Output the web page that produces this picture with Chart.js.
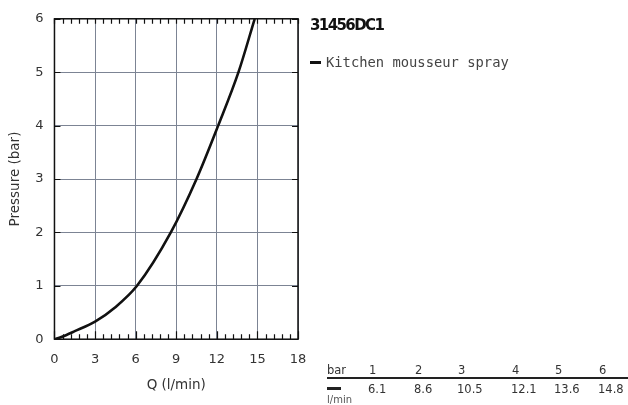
<!DOCTYPE html>
<html>
<head>
<meta charset="utf-8">
<script src="https://cdn.jsdelivr.net/npm/chart.js@4"></script>
<style>
  html, body { margin:0; padding:0; background:#fff; }
  body { width:628px; height:405px; position:relative; overflow:hidden; font-family:"DejaVu Sans", sans-serif; color:#333; }
  #wrap { position:absolute; left:0; top:0; width:628px; height:405px; }
  .abs { position:absolute; white-space:nowrap; }
  #title { left:310px; top:16px; font-size:15px; font-weight:bold; color:#111; letter-spacing:-1.6px; }
  #legend { left:310px; top:54px; font-family:"DejaVu Sans Mono", monospace; font-size:13.8px; color:#444; }
  #legend .sw { display:inline-block; width:11px; height:3px; background:#111; vertical-align:middle; margin-right:5px; position:relative; top:-1px; }
  .tb { font-size:11.5px; color:#333; }
  #rule { left:327px; top:377px; width:301px; height:2px; background:#222; }
  #dash { left:327px; top:387px; width:14px; height:3px; background:#222; }
  #lmin { left:327px; top:394px; font-size:10px; color:#555; }
</style>
</head>
<body>
<div id="wrap"><canvas id="c" width="628" height="405"></canvas></div>
<div class="abs" id="title"></div>
<div class="abs" id="legend"><span class="sw"></span><span id="legtext"></span></div>
<div class="abs" id="rule"></div>
<div class="abs" id="dash"></div>
<div class="abs tb" id="lmin">l/min</div>
<script>
const chartTitle = "31456DC1";
const seriesName = "Kitchen mousseur spray";
// curve points (Q in l/min, P in bar)
const flowCurve = [0, 0.5, 1.5, 3, 4.5, 6.1, 8.6, 10.5, 12.1, 13.6, 14.8];
const pressureCurve = [0, 0.04, 0.15, 0.33, 0.6, 1, 2, 3, 4, 5, 6];
// table below the chart
const tableBar = [1, 2, 3, 4, 5, 6];
const tableFlow = ["6.1", "8.6", "10.5", "12.1", "13.6", "14.8"];
const xTicks = [0, 3, 6, 9, 12, 15, 18];
const yTicks = [0, 1, 2, 3, 4, 5, 6];

document.getElementById('title').textContent = chartTitle;
document.getElementById('legtext').textContent = seriesName;

const colX = [369, 415, 458, 512, 555, 599];
const hdr = document.createElement('div');
hdr.className = 'abs tb'; hdr.style.left = '327px'; hdr.style.top = '363px'; hdr.textContent = 'bar';
document.body.appendChild(hdr);
tableBar.forEach((b, i) => {
  const d = document.createElement('div');
  d.className = 'abs tb'; d.style.left = colX[i] + 'px'; d.style.top = '363px'; d.textContent = String(b);
  document.body.appendChild(d);
  const e = document.createElement('div');
  e.className = 'abs tb'; e.style.left = (colX[i] - 1) + 'px'; e.style.top = '382px'; e.textContent = tableFlow[i];
  document.body.appendChild(e);
});

const points = flowCurve.map((q, i) => ({x: q, y: pressureCurve[i]}));

const boxPlugin = {
  id: 'box',
  afterDraw(chart) {
    const {ctx, chartArea: a, scales: {x, y}} = chart;
    ctx.save();
    ctx.strokeStyle = '#111';
    ctx.lineWidth = 1.5;
    ctx.strokeRect(a.left, a.top, a.right - a.left, a.bottom - a.top);
    ctx.lineWidth = 1.2;
    ctx.beginPath();
    for (let v = 0; v <= 18.001; v += 0.6) {
      const px = Math.round(x.getPixelForValue(v)) + 0.5;
      const major = Math.abs(v / 3 - Math.round(v / 3)) < 1e-6;
      const lb = major ? 8 : 5;
      ctx.moveTo(px, a.bottom); ctx.lineTo(px, a.bottom - lb);
      ctx.moveTo(px, a.top); ctx.lineTo(px, a.top + 5);
    }
    yTicks.forEach(v => {
      const py = Math.round(y.getPixelForValue(v)) + 0.5;
      ctx.moveTo(a.left, py); ctx.lineTo(a.left + 6, py);
      ctx.moveTo(a.right, py); ctx.lineTo(a.right - 6, py);
    });
    ctx.stroke();
    ctx.restore();
  }
};

new Chart(document.getElementById('c'), {
  type: 'scatter',
  data: {
    datasets: [{
      label: seriesName,
      data: points,
      showLine: true,
      borderColor: '#111',
      borderWidth: 2.6,
      pointRadius: 0,
      cubicInterpolationMode: 'monotone',
      fill: false
    }]
  },
  options: {
    responsive: false,
    animation: false,
    devicePixelRatio: 1,
    layout: { padding: { left: 3, right: 330, top: 16, bottom: 11 } },
    plugins: { legend: { display: false }, tooltip: { enabled: false } },
    scales: {
      x: {
        type: 'linear', min: 0, max: 18,
        afterBuildTicks: s => { s.ticks = xTicks.map(v => ({value: v})); },
        grid: { color: '#7c8494', lineWidth: 1, drawTicks: false },
        border: { display: false },
        ticks: { color: '#333', font: { family: 'DejaVu Sans', size: 13 }, padding: 13, maxRotation: 0 },
        title: { display: true, text: 'Q (l/min)', color: '#333', font: { family: 'DejaVu Sans', size: 13.5 }, padding: { top: -3, bottom: 0 } }
      },
      y: {
        type: 'linear', min: 0, max: 6,
        afterBuildTicks: s => { s.ticks = yTicks.map(v => ({value: v})); },
        grid: { color: '#7c8494', lineWidth: 1, drawTicks: false },
        border: { display: false },
        ticks: { color: '#333', font: { family: 'DejaVu Sans', size: 13 }, padding: 11 },
        title: { display: true, text: 'Pressure (bar)', color: '#333', font: { family: 'DejaVu Sans', size: 13.5 }, padding: { bottom: 1 } }
      }
    }
  },
  plugins: [boxPlugin]
});
</script>
</body>
</html>
